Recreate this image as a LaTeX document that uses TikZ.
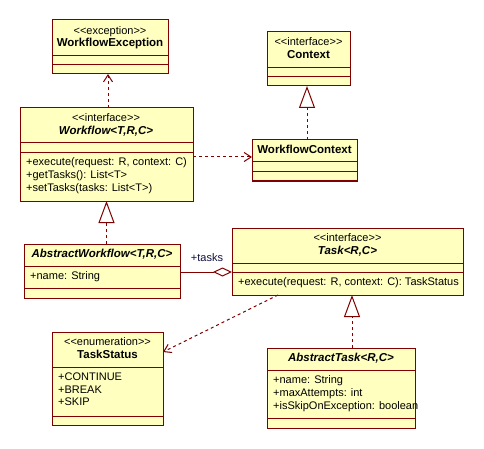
\documentclass[tikz,border=0pt]{standalone}
\usepackage{fontspec}
\setmainfont{Liberation Sans}[Ligatures=TeXOff]
\usetikzlibrary{arrows.meta,calc}
\definecolor{umlfill}{HTML}{FFFFC0}
\definecolor{umlline}{HTML}{800000}
\definecolor{umltext}{HTML}{000000}
\definecolor{lbltext}{HTML}{101040}
\begin{document}
\begin{tikzpicture}[x=1pt,y=-1pt,
  font=\fontsize{11}{13}\selectfont,
  umlbox/.style={draw=umlline,fill=umlfill,line width=1pt,inner sep=0pt,outer sep=0pt,anchor=north west},
  sepline/.style={draw=umlline,line width=1pt},
  ctxt/.style={inner sep=0pt,text height=8pt,text depth=2.5pt,text=umltext},
  ltxt/.style={ctxt,anchor=west},
  bname/.style={ctxt,font=\fontsize{11.5}{13}\selectfont\bfseries},
  biname/.style={ctxt,font=\fontsize{11.5}{13}\selectfont\bfseries\itshape},
  depline/.style={draw=umlline,line width=1pt,dash pattern=on 3pt off 3pt,-{Straight Barb[length=7pt,width=9pt]}},
  realline/.style={draw=umlline,line width=1pt,dash pattern=on 3pt off 3pt,-{Triangle[length=22pt,width=16pt,fill=white]}},
  aggline/.style={draw=umlline,line width=1pt,-{Diamond[length=19pt,width=9pt,fill=white]}}
]
\useasboundingbox (0,0) rectangle (484,449);
\fill[white] (0,0) rectangle (484,449);

% WorkflowException
\node[umlbox,minimum width=116pt,minimum height=54pt] (wfe) at (52,20) {};
\draw[sepline] (wfe.west |- 0,56) -- (wfe.east |- 0,56);
\draw[sepline] (wfe.west |- 0,65) -- (wfe.east |- 0,65);
\node[ctxt] (wfes) at (110,32) {<<exception>>};
\node[bname] (wfen) at (110,44) {WorkflowException};

% Workflow
\node[umlbox,minimum width=173pt,minimum height=93pt] (wf) at (20,108) {};
\draw[sepline] (wf.west |- 0,143) -- (wf.east |- 0,143);
\draw[sepline] (wf.west |- 0,153) -- (wf.east |- 0,153);
\node[ctxt] (wfs) at (106,119) {<<interface>>};
\node[biname] (wfn) at (106,132) {Workflow<T,R,C>};
\node[ltxt] (wfo1) at (26,163) {+execute(request: R, context: C)};
\node[ltxt] (wfo2) at (26,176) {+getTasks(): List<T>};
\node[ltxt] (wfo3) at (26,189) {+setTasks(tasks: List<T>)};

% Context
\node[umlbox,minimum width=83pt,minimum height=54pt] (ctx) at (267,32) {};
\draw[sepline] (ctx.west |- 0,68) -- (ctx.east |- 0,68);
\draw[sepline] (ctx.west |- 0,77) -- (ctx.east |- 0,77);
\node[ctxt] (ctxs) at (308.5,43) {<<interface>>};
\node[bname] (ctxn) at (308.5,56) {Context};

% WorkflowContext
\node[umlbox,minimum width=105pt,minimum height=41pt] (wfc) at (252,140) {};
\draw[sepline] (wfc.west |- 0,162) -- (wfc.east |- 0,162);
\draw[sepline] (wfc.west |- 0,172) -- (wfc.east |- 0,172);
\node[bname] (wfcn) at (304.5,151) {WorkflowContext};

% AbstractWorkflow
\node[umlbox,minimum width=156pt,minimum height=54pt] (aw) at (24,244) {};
\draw[sepline] (aw.west |- 0,266) -- (aw.east |- 0,266);
\draw[sepline] (aw.west |- 0,288) -- (aw.east |- 0,288);
\node[biname] (awn) at (102,255) {AbstractWorkflow<T,R,C>};
\node[ltxt] (awa1) at (30,277) {+name: String};

% Task
\node[umlbox,minimum width=231pt,minimum height=67pt] (task) at (232,228) {};
\draw[sepline] (task.west |- 0,263) -- (task.east |- 0,263);
\draw[sepline] (task.west |- 0,272) -- (task.east |- 0,272);
\node[ctxt] (tasks) at (347.5,239) {<<interface>>};
\node[biname] (taskn) at (347.5,252) {Task<R,C>};
\node[ltxt] (tasko1) at (238,283) {+execute(request: R, context: C): TaskStatus};

% AbstractTask
\node[umlbox,minimum width=148pt,minimum height=80pt] (at) at (267,348) {};
\draw[sepline] (at.west |- 0,370) -- (at.east |- 0,370);
\draw[sepline] (at.west |- 0,418) -- (at.east |- 0,418);
\node[biname] (atn) at (341,359) {AbstractTask<R,C>};
\node[ltxt] (ata1) at (273,381) {+name: String};
\node[ltxt] (ata2) at (273,394) {+maxAttempts: int};
\node[ltxt] (ata3) at (273,407) {+isSkipOnException: boolean};

% TaskStatus
\node[umlbox,minimum width=111pt,minimum height=93pt] (ts) at (52,332) {};
\draw[sepline] (ts.west |- 0,367) -- (ts.east |- 0,367);
\draw[sepline] (ts.west |- 0,416) -- (ts.east |- 0,416);
\node[ctxt] (tss) at (107.5,343) {<<enumeration>>};
\node[bname] (tsn) at (107.5,356) {TaskStatus};
\node[ltxt] (tsl1) at (58,378) {+CONTINUE};
\node[ltxt] (tsl2) at (58,390.5) {+BREAK};
\node[ltxt] (tsl3) at (58,403) {+SKIP};

% connectors
\draw[depline] ([xshift=-2pt]wfe.south |- wf.north) -- ([xshift=-2pt]wfe.south);
\draw[depline] ([yshift=3.5pt]wfc.west -| wf.east) -- ([yshift=3.5pt]wfc.west);
\draw[realline] ([xshift=-1.5pt]ctx.south |- wfc.north) -- ([xshift=-1.5pt]ctx.south);
\draw[realline] (wf.south |- aw.north) -- (wf.south);
\draw[aggline] ([yshift=-1pt]aw.east) -- ([yshift=-1pt]aw.east -| task.west);
\node[inner sep=0pt,text=lbltext] (taskslbl) at (207,258) {+tasks};
\draw[realline] ([xshift=4.5pt]task.south |- at.north) -- ([xshift=4.5pt]task.south);
\draw[depline] ([xshift=46pt]task.south west) -- ([yshift=26.5pt]ts.east);
\end{tikzpicture}
\end{document}
